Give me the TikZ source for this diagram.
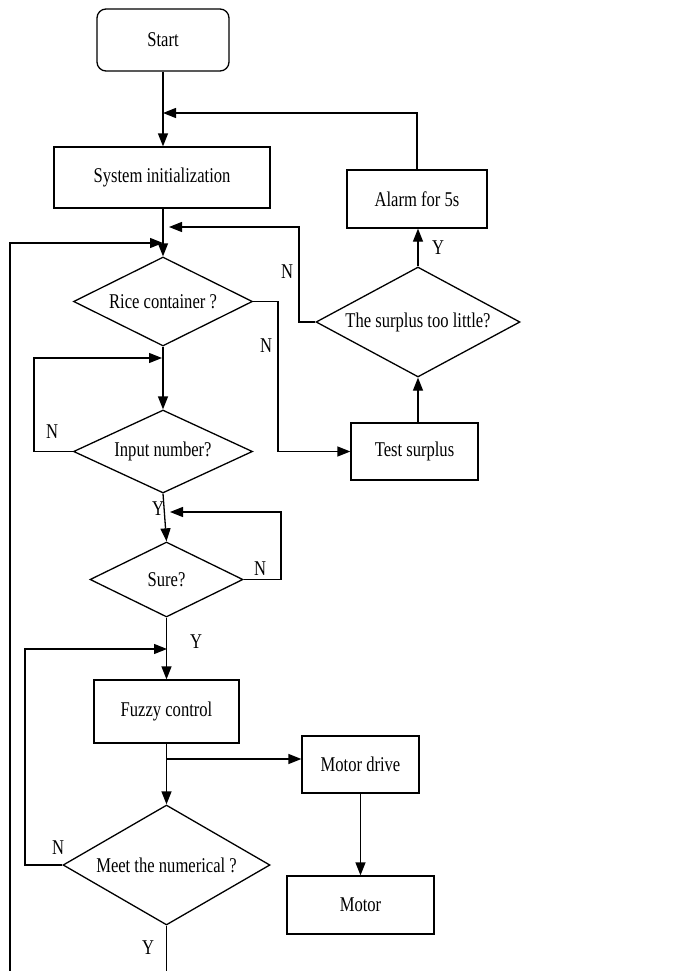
\documentclass[tikz,border=0pt]{standalone}
\usepackage{fontspec}
\setmainfont[FakeStretch=0.79]{Liberation Serif}
\usetikzlibrary{shapes.geometric,arrows.meta}
\begin{document}
\begin{tikzpicture}[x=1pt,y=-1pt, line width=1.3pt,
  >={Triangle[length=13pt,width=10pt]},
  txt/.style={font=\fontsize{21}{24}\selectfont},
  box/.style={txt, draw, rectangle, inner sep=0pt},
  dia/.style={txt, draw, diamond, inner sep=0pt},
  lab/.style={txt, inner sep=0pt}]
\useasboundingbox (0,0) rectangle (684,971);
\fill[white] (0,0) rectangle (684,971);

% boxes
\node[box, rounded corners=9pt, minimum width=132pt, minimum height=62pt] (start) at (163,40) {Start};
\node[box, minimum width=216pt, minimum height=61pt] (sys) at (162,177.5) {System initialization};
\node[box, minimum width=140pt, minimum height=58pt] (alarm) at (417,199) {Alarm for 5s};
\node[box, minimum width=127pt, minimum height=57pt] (test) at (414.5,451.5) {Test surplus};
\node[box, minimum width=145pt, minimum height=63pt] (fuzzy) at (166.5,711.5) {Fuzzy control};
\node[box, minimum width=117pt, minimum height=57pt] (mdrive) at (360.5,764.5) {Motor drive};
\node[box, minimum width=147pt, minimum height=58pt] (motor) at (360.5,905) {Motor};

% diamonds
\node[dia, minimum width=179pt, minimum height=89pt] (rice) at (163,301.5) {\makebox[0pt]{Rice container ?}};
\node[dia, minimum width=204pt, minimum height=110pt] (surplus) at (418,322) {\makebox[0pt]{The surplus too little?}};
\node[dia, minimum width=179pt, minimum height=83pt] (input) at (163,451.5) {\makebox[0pt]{Input number?}};
\node[dia, minimum width=153pt, minimum height=75pt] (sure) at (166.5,579.5) {\makebox[0pt]{Sure?}};
\node[dia, minimum width=207pt, minimum height=120pt] (meet) at (166.5,865) {\makebox[0pt]{Meet the numerical ?}};

% junction coordinates
\coordinate (j1) at (163,113);
\coordinate (j2) at (169,227);
\coordinate (j3) at (163,243);
\coordinate (j4) at (162,358);
\coordinate (j5) at (170,512);
\coordinate (j6) at (167,649);
\coordinate (j7) at (167,759);
\coordinate (lb) at (10,971);
\coordinate (mb) at (166.5,971);

% connectors
\draw[->] (start.south) -- (start.south |- sys.north);
\draw[->] (alarm.north) |- (j1);
\draw[->] (sys.south -| rice.north) -- (rice.north);
\draw[->] (surplus.west) -- (299,322) |- (j2);
\draw[->] (lb) |- (j3);
\draw[->] (rice.east) -| (278,451.5) -- (test.west);
\draw[->] (test.north -| surplus.south) -- (surplus.south);
\draw[->] (surplus.north) -- (surplus.north |- alarm.south);
\draw[->] (rice.south) -- (input.north);
\draw[->] (input.west) -| (34,400) |- (j4);
\draw[->] (input.south) -- (sure.north);
\draw[->] (sure.east) -| (281,540) |- (j5);
\draw[->] (sure.south) -- (fuzzy.north);
\draw[->] (meet.west) -| (25,700) |- (j6);
\draw[->] (fuzzy.south) -- (meet.north);
\draw[->] (j7) -- (j7 -| mdrive.west);
\draw[->] (mdrive.south) -- (motor.north);
\draw (meet.south) -- (mb);

% labels
\node[lab] (l1) at (287,272) {N};
\node[lab] (l2) at (438,248) {Y};
\node[lab] (l3) at (266,346) {N};
\node[lab] (l4) at (52,432) {N};
\node[lab] (l5) at (158,509) {Y};
\node[lab] (l6) at (260,569) {N};
\node[lab] (l7) at (196,642) {Y};
\node[lab] (l8) at (58,848) {N};
\node[lab] (l9) at (148,948) {Y};
\end{tikzpicture}
\end{document}
